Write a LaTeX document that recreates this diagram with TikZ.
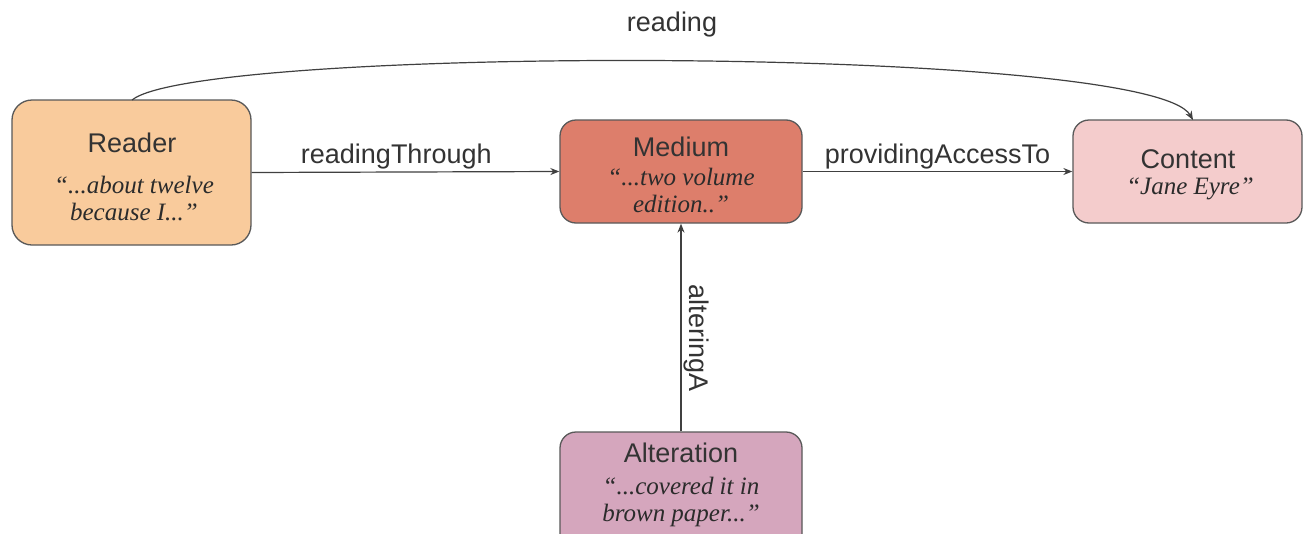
\documentclass[tikz,border=0pt]{standalone}
\usepackage{fontspec}
\setmainfont{Liberation Sans}
\newfontfamily\qfont{Liberation Serif}
\usetikzlibrary{arrows.meta}
\definecolor{boxline}{HTML}{595959}
\definecolor{lineg}{HTML}{404040}
\definecolor{txt}{HTML}{333333}
\definecolor{readerfill}{HTML}{F9CB9C}
\definecolor{mediumfill}{HTML}{DD7E6B}
\definecolor{contentfill}{HTML}{F4CCCC}
\definecolor{alterfill}{HTML}{D5A6BD}
\begin{document}
\begin{tikzpicture}[x=1pt,y=-1pt,
  box/.style={draw=boxline, line width=1.3pt, rounded corners=16pt, inner sep=0pt},
  ttl/.style={text=txt, inner sep=0pt, font=\fontsize{27}{30}\selectfont},
  qt/.style={text=txt!85!black, inner sep=0pt, align=center, font=\qfont\itshape\fontsize{25}{27}\selectfont},
  conn/.style={draw=lineg, line width=1.2pt, -{Stealth[length=9pt,width=7pt]}},
  lbl/.style={text=txt, inner sep=2pt, font=\fontsize{27}{30}\selectfont}]
\useasboundingbox (0,0) rectangle (1303,533);
\clip (0,0) rectangle (1303,533);
\fill[white] (0,0) rectangle (1303,533);
% boxes
\node[box, fill=readerfill, minimum width=239pt, minimum height=145pt, rounded corners=20pt] (reader) at (131.5,172.5) {};
\node[box, fill=mediumfill, minimum width=242pt, minimum height=103pt] (medium) at (681,171.5) {};
\node[box, fill=contentfill, minimum width=229pt, minimum height=103pt] (content) at (1187.5,171.5) {};
\node[box, fill=alterfill, minimum width=242pt, minimum height=118pt] (alter) at (681,491) {};
% texts
\node[ttl] (readerT) at (132,143) {Reader};
\node[qt] (readerQ) at (134,198) {“...about twelve\\because I...”};
\node[ttl] (mediumT) at (681,147) {Medium};
\node[qt] (mediumQ) at (681,190) {“...two volume\\edition..”};
\node[ttl] (contentT) at (1188,159) {Content};
\node[qt] (contentQ) at (1190,189) {“Jane Eyre”};
\node[ttl] (alterT) at (681,453) {Alteration};
\node[qt] (alterQ) at (681,502) {“...covered it in\\brown paper...”};
% connectors
\draw[conn] (reader.east) -- node[lbl, above, pos=0.47] (l1) {readingThrough} (medium.west);
\draw[conn] (medium.east) -- node[lbl, above, pos=0.5] (l2) {providingAccessTo} (content.west);
\draw[conn] (alter.north) -- node[lbl, pos=0.45, rotate=-90, anchor=south] (l3) {alteringA} (medium.south);
\coordinate (rs) at (132,100);
\coordinate (re) at (1193,120);
\draw[conn] (rs) .. controls (200,45) and (1150,45) .. (re);
\node[lbl] (l4) at (672,25) {reading};
\end{tikzpicture}
\end{document}
